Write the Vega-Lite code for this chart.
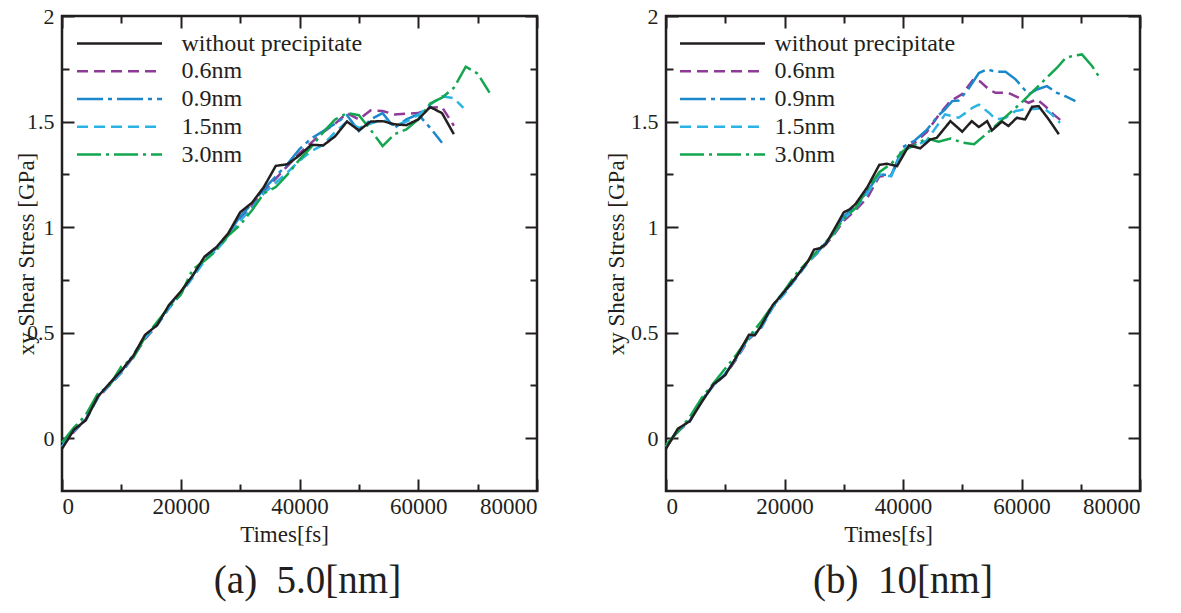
{
"$schema": "https://vega.github.io/schema/vega-lite/v6.json",
"background": "white",
"padding": {"left": 13, "top": 3, "right": 10, "bottom": 5},
"spacing": 63,
"datasets": {
"one": [{"t": 0, "v": 0}],
"d": [
{"p":"a","s":"0.6nm","t":0,"v":-0.04},{"p":"a","s":"0.6nm","t":2000,"v":0.03},{"p":"a","s":"0.6nm","t":4000,"v":0.09},{"p":"a","s":"0.6nm","t":6000,"v":0.19},{"p":"a","s":"0.6nm","t":8000,"v":0.25},{"p":"a","s":"0.6nm","t":10000,"v":0.31},{"p":"a","s":"0.6nm","t":12000,"v":0.385},{"p":"a","s":"0.6nm","t":14000,"v":0.47},{"p":"a","s":"0.6nm","t":16000,"v":0.535},{"p":"a","s":"0.6nm","t":18000,"v":0.615},{"p":"a","s":"0.6nm","t":20000,"v":0.685},{"p":"a","s":"0.6nm","t":22000,"v":0.765},{"p":"a","s":"0.6nm","t":24000,"v":0.845},{"p":"a","s":"0.6nm","t":26000,"v":0.9},{"p":"a","s":"0.6nm","t":28000,"v":0.965},{"p":"a","s":"0.6nm","t":30000,"v":1.04},{"p":"a","s":"0.6nm","t":32000,"v":1.1},{"p":"a","s":"0.6nm","t":34000,"v":1.17},{"p":"a","s":"0.6nm","t":36000,"v":1.23},{"p":"a","s":"0.6nm","t":38000,"v":1.29},{"p":"a","s":"0.6nm","t":40000,"v":1.35},{"p":"a","s":"0.6nm","t":42000,"v":1.4},{"p":"a","s":"0.6nm","t":44000,"v":1.45},{"p":"a","s":"0.6nm","t":46000,"v":1.49},{"p":"a","s":"0.6nm","t":48000,"v":1.54},{"p":"a","s":"0.6nm","t":50000,"v":1.51},{"p":"a","s":"0.6nm","t":52000,"v":1.553},{"p":"a","s":"0.6nm","t":54000,"v":1.55},{"p":"a","s":"0.6nm","t":56000,"v":1.534},{"p":"a","s":"0.6nm","t":58000,"v":1.537},{"p":"a","s":"0.6nm","t":60000,"v":1.54},{"p":"a","s":"0.6nm","t":62000,"v":1.565},{"p":"a","s":"0.6nm","t":64000,"v":1.569},{"p":"a","s":"0.6nm","t":66000,"v":1.48},
{"p":"a","s":"0.9nm","t":0,"v":-0.04},{"p":"a","s":"0.9nm","t":2000,"v":0.04},{"p":"a","s":"0.9nm","t":4000,"v":0.09},{"p":"a","s":"0.9nm","t":6000,"v":0.2},{"p":"a","s":"0.9nm","t":8000,"v":0.255},{"p":"a","s":"0.9nm","t":10000,"v":0.315},{"p":"a","s":"0.9nm","t":12000,"v":0.395},{"p":"a","s":"0.9nm","t":14000,"v":0.48},{"p":"a","s":"0.9nm","t":16000,"v":0.54},{"p":"a","s":"0.9nm","t":18000,"v":0.625},{"p":"a","s":"0.9nm","t":20000,"v":0.69},{"p":"a","s":"0.9nm","t":22000,"v":0.77},{"p":"a","s":"0.9nm","t":24000,"v":0.85},{"p":"a","s":"0.9nm","t":26000,"v":0.9},{"p":"a","s":"0.9nm","t":28000,"v":0.97},{"p":"a","s":"0.9nm","t":30000,"v":1.05},{"p":"a","s":"0.9nm","t":32000,"v":1.11},{"p":"a","s":"0.9nm","t":34000,"v":1.18},{"p":"a","s":"0.9nm","t":36000,"v":1.24},{"p":"a","s":"0.9nm","t":38000,"v":1.3},{"p":"a","s":"0.9nm","t":40000,"v":1.37},{"p":"a","s":"0.9nm","t":42000,"v":1.42},{"p":"a","s":"0.9nm","t":44000,"v":1.455},{"p":"a","s":"0.9nm","t":46000,"v":1.49},{"p":"a","s":"0.9nm","t":48000,"v":1.53},{"p":"a","s":"0.9nm","t":50000,"v":1.455},{"p":"a","s":"0.9nm","t":52000,"v":1.51},{"p":"a","s":"0.9nm","t":54000,"v":1.54},{"p":"a","s":"0.9nm","t":56000,"v":1.47},{"p":"a","s":"0.9nm","t":58000,"v":1.51},{"p":"a","s":"0.9nm","t":60000,"v":1.534},{"p":"a","s":"0.9nm","t":62000,"v":1.47},{"p":"a","s":"0.9nm","t":64000,"v":1.4},
{"p":"a","s":"1.5nm","t":0,"v":-0.04},{"p":"a","s":"1.5nm","t":2000,"v":0.035},{"p":"a","s":"1.5nm","t":4000,"v":0.085},{"p":"a","s":"1.5nm","t":6000,"v":0.19},{"p":"a","s":"1.5nm","t":8000,"v":0.255},{"p":"a","s":"1.5nm","t":10000,"v":0.31},{"p":"a","s":"1.5nm","t":12000,"v":0.39},{"p":"a","s":"1.5nm","t":14000,"v":0.475},{"p":"a","s":"1.5nm","t":16000,"v":0.535},{"p":"a","s":"1.5nm","t":18000,"v":0.615},{"p":"a","s":"1.5nm","t":20000,"v":0.685},{"p":"a","s":"1.5nm","t":22000,"v":0.76},{"p":"a","s":"1.5nm","t":24000,"v":0.84},{"p":"a","s":"1.5nm","t":26000,"v":0.89},{"p":"a","s":"1.5nm","t":28000,"v":0.955},{"p":"a","s":"1.5nm","t":30000,"v":1.03},{"p":"a","s":"1.5nm","t":32000,"v":1.09},{"p":"a","s":"1.5nm","t":34000,"v":1.16},{"p":"a","s":"1.5nm","t":36000,"v":1.21},{"p":"a","s":"1.5nm","t":38000,"v":1.26},{"p":"a","s":"1.5nm","t":40000,"v":1.315},{"p":"a","s":"1.5nm","t":42000,"v":1.36},{"p":"a","s":"1.5nm","t":44000,"v":1.39},{"p":"a","s":"1.5nm","t":46000,"v":1.45},{"p":"a","s":"1.5nm","t":48000,"v":1.5},{"p":"a","s":"1.5nm","t":50000,"v":1.47},{"p":"a","s":"1.5nm","t":52000,"v":1.49},{"p":"a","s":"1.5nm","t":54000,"v":1.51},{"p":"a","s":"1.5nm","t":56000,"v":1.48},{"p":"a","s":"1.5nm","t":58000,"v":1.5},{"p":"a","s":"1.5nm","t":60000,"v":1.53},{"p":"a","s":"1.5nm","t":62000,"v":1.58},{"p":"a","s":"1.5nm","t":64000,"v":1.62},{"p":"a","s":"1.5nm","t":66000,"v":1.61},{"p":"a","s":"1.5nm","t":67600,"v":1.565},
{"p":"a","s":"3.0nm","t":0,"v":-0.02},{"p":"a","s":"3.0nm","t":2000,"v":0.05},{"p":"a","s":"3.0nm","t":4000,"v":0.11},{"p":"a","s":"3.0nm","t":6000,"v":0.21},{"p":"a","s":"3.0nm","t":8000,"v":0.25},{"p":"a","s":"3.0nm","t":10000,"v":0.34},{"p":"a","s":"3.0nm","t":12000,"v":0.38},{"p":"a","s":"3.0nm","t":14000,"v":0.48},{"p":"a","s":"3.0nm","t":16000,"v":0.55},{"p":"a","s":"3.0nm","t":18000,"v":0.62},{"p":"a","s":"3.0nm","t":20000,"v":0.68},{"p":"a","s":"3.0nm","t":22000,"v":0.8},{"p":"a","s":"3.0nm","t":24000,"v":0.84},{"p":"a","s":"3.0nm","t":26000,"v":0.89},{"p":"a","s":"3.0nm","t":28000,"v":0.96},{"p":"a","s":"3.0nm","t":30000,"v":1.01},{"p":"a","s":"3.0nm","t":32000,"v":1.08},{"p":"a","s":"3.0nm","t":34000,"v":1.16},{"p":"a","s":"3.0nm","t":36000,"v":1.19},{"p":"a","s":"3.0nm","t":38000,"v":1.25},{"p":"a","s":"3.0nm","t":40000,"v":1.32},{"p":"a","s":"3.0nm","t":42000,"v":1.38},{"p":"a","s":"3.0nm","t":44000,"v":1.45},{"p":"a","s":"3.0nm","t":46000,"v":1.51},{"p":"a","s":"3.0nm","t":48000,"v":1.54},{"p":"a","s":"3.0nm","t":50000,"v":1.53},{"p":"a","s":"3.0nm","t":52000,"v":1.46},{"p":"a","s":"3.0nm","t":54000,"v":1.384},{"p":"a","s":"3.0nm","t":56000,"v":1.44},{"p":"a","s":"3.0nm","t":58000,"v":1.463},{"p":"a","s":"3.0nm","t":60000,"v":1.51},{"p":"a","s":"3.0nm","t":62000,"v":1.585},{"p":"a","s":"3.0nm","t":64000,"v":1.613},{"p":"a","s":"3.0nm","t":66000,"v":1.66},{"p":"a","s":"3.0nm","t":68000,"v":1.76},{"p":"a","s":"3.0nm","t":70000,"v":1.727},{"p":"a","s":"3.0nm","t":72000,"v":1.637},
{"p":"a","s":"without precipitate","t":0,"v":-0.05},{"p":"a","s":"without precipitate","t":2000,"v":0.04},{"p":"a","s":"without precipitate","t":4000,"v":0.085},{"p":"a","s":"without precipitate","t":6000,"v":0.195},{"p":"a","s":"without precipitate","t":8000,"v":0.26},{"p":"a","s":"without precipitate","t":10000,"v":0.32},{"p":"a","s":"without precipitate","t":12000,"v":0.39},{"p":"a","s":"without precipitate","t":14000,"v":0.49},{"p":"a","s":"without precipitate","t":16000,"v":0.535},{"p":"a","s":"without precipitate","t":18000,"v":0.63},{"p":"a","s":"without precipitate","t":20000,"v":0.695},{"p":"a","s":"without precipitate","t":22000,"v":0.77},{"p":"a","s":"without precipitate","t":24000,"v":0.86},{"p":"a","s":"without precipitate","t":26000,"v":0.905},{"p":"a","s":"without precipitate","t":28000,"v":0.97},{"p":"a","s":"without precipitate","t":30000,"v":1.07},{"p":"a","s":"without precipitate","t":32000,"v":1.115},{"p":"a","s":"without precipitate","t":34000,"v":1.19},{"p":"a","s":"without precipitate","t":36000,"v":1.29},{"p":"a","s":"without precipitate","t":38000,"v":1.298},{"p":"a","s":"without precipitate","t":40000,"v":1.34},{"p":"a","s":"without precipitate","t":42000,"v":1.39},{"p":"a","s":"without precipitate","t":44000,"v":1.387},{"p":"a","s":"without precipitate","t":46000,"v":1.43},{"p":"a","s":"without precipitate","t":48000,"v":1.5},{"p":"a","s":"without precipitate","t":50000,"v":1.458},{"p":"a","s":"without precipitate","t":52000,"v":1.5},{"p":"a","s":"without precipitate","t":54000,"v":1.502},{"p":"a","s":"without precipitate","t":56000,"v":1.487},{"p":"a","s":"without precipitate","t":58000,"v":1.483},{"p":"a","s":"without precipitate","t":60000,"v":1.51},{"p":"a","s":"without precipitate","t":62000,"v":1.569},{"p":"a","s":"without precipitate","t":64000,"v":1.54},{"p":"a","s":"without precipitate","t":66000,"v":1.44},
{"p":"b","s":"0.6nm","t":0,"v":-0.04},{"p":"b","s":"0.6nm","t":2000,"v":0.03},{"p":"b","s":"0.6nm","t":4000,"v":0.08},{"p":"b","s":"0.6nm","t":6000,"v":0.18},{"p":"b","s":"0.6nm","t":8000,"v":0.25},{"p":"b","s":"0.6nm","t":10000,"v":0.3},{"p":"b","s":"0.6nm","t":12000,"v":0.38},{"p":"b","s":"0.6nm","t":14000,"v":0.47},{"p":"b","s":"0.6nm","t":16000,"v":0.52},{"p":"b","s":"0.6nm","t":18000,"v":0.62},{"p":"b","s":"0.6nm","t":20000,"v":0.69},{"p":"b","s":"0.6nm","t":22000,"v":0.76},{"p":"b","s":"0.6nm","t":24000,"v":0.835},{"p":"b","s":"0.6nm","t":26000,"v":0.89},{"p":"b","s":"0.6nm","t":28000,"v":0.95},{"p":"b","s":"0.6nm","t":30000,"v":1.03},{"p":"b","s":"0.6nm","t":32000,"v":1.08},{"p":"b","s":"0.6nm","t":34000,"v":1.14},{"p":"b","s":"0.6nm","t":36000,"v":1.24},{"p":"b","s":"0.6nm","t":38000,"v":1.245},{"p":"b","s":"0.6nm","t":40000,"v":1.36},{"p":"b","s":"0.6nm","t":42000,"v":1.4},{"p":"b","s":"0.6nm","t":44000,"v":1.45},{"p":"b","s":"0.6nm","t":46000,"v":1.53},{"p":"b","s":"0.6nm","t":48000,"v":1.597},{"p":"b","s":"0.6nm","t":50000,"v":1.63},{"p":"b","s":"0.6nm","t":51900,"v":1.7},{"p":"b","s":"0.6nm","t":53000,"v":1.69},{"p":"b","s":"0.6nm","t":54500,"v":1.652},{"p":"b","s":"0.6nm","t":55600,"v":1.636},{"p":"b","s":"0.6nm","t":57800,"v":1.636},{"p":"b","s":"0.6nm","t":59500,"v":1.613},{"p":"b","s":"0.6nm","t":61200,"v":1.589},{"p":"b","s":"0.6nm","t":62600,"v":1.605},{"p":"b","s":"0.6nm","t":64000,"v":1.573},{"p":"b","s":"0.6nm","t":65400,"v":1.534},{"p":"b","s":"0.6nm","t":66800,"v":1.502},
{"p":"b","s":"0.9nm","t":0,"v":-0.04},{"p":"b","s":"0.9nm","t":2000,"v":0.04},{"p":"b","s":"0.9nm","t":4000,"v":0.085},{"p":"b","s":"0.9nm","t":6000,"v":0.18},{"p":"b","s":"0.9nm","t":8000,"v":0.25},{"p":"b","s":"0.9nm","t":10000,"v":0.305},{"p":"b","s":"0.9nm","t":12000,"v":0.385},{"p":"b","s":"0.9nm","t":14000,"v":0.48},{"p":"b","s":"0.9nm","t":16000,"v":0.525},{"p":"b","s":"0.9nm","t":18000,"v":0.625},{"p":"b","s":"0.9nm","t":20000,"v":0.69},{"p":"b","s":"0.9nm","t":22000,"v":0.765},{"p":"b","s":"0.9nm","t":24000,"v":0.84},{"p":"b","s":"0.9nm","t":26000,"v":0.895},{"p":"b","s":"0.9nm","t":28000,"v":0.96},{"p":"b","s":"0.9nm","t":30000,"v":1.05},{"p":"b","s":"0.9nm","t":32000,"v":1.1},{"p":"b","s":"0.9nm","t":34000,"v":1.17},{"p":"b","s":"0.9nm","t":36000,"v":1.25},{"p":"b","s":"0.9nm","t":38000,"v":1.245},{"p":"b","s":"0.9nm","t":40000,"v":1.38},{"p":"b","s":"0.9nm","t":42000,"v":1.41},{"p":"b","s":"0.9nm","t":44000,"v":1.46},{"p":"b","s":"0.9nm","t":46000,"v":1.53},{"p":"b","s":"0.9nm","t":47100,"v":1.558},{"p":"b","s":"0.9nm","t":48300,"v":1.597},{"p":"b","s":"0.9nm","t":49400,"v":1.6},{"p":"b","s":"0.9nm","t":51000,"v":1.652},{"p":"b","s":"0.9nm","t":52800,"v":1.73},{"p":"b","s":"0.9nm","t":54200,"v":1.747},{"p":"b","s":"0.9nm","t":55600,"v":1.736},{"p":"b","s":"0.9nm","t":57300,"v":1.736},{"p":"b","s":"0.9nm","t":59000,"v":1.7},{"p":"b","s":"0.9nm","t":61200,"v":1.629},{"p":"b","s":"0.9nm","t":62600,"v":1.652},{"p":"b","s":"0.9nm","t":64300,"v":1.668},{"p":"b","s":"0.9nm","t":66000,"v":1.636},{"p":"b","s":"0.9nm","t":67400,"v":1.62},{"p":"b","s":"0.9nm","t":69100,"v":1.597},
{"p":"b","s":"1.5nm","t":0,"v":-0.04},{"p":"b","s":"1.5nm","t":2000,"v":0.035},{"p":"b","s":"1.5nm","t":4000,"v":0.08},{"p":"b","s":"1.5nm","t":6000,"v":0.175},{"p":"b","s":"1.5nm","t":8000,"v":0.25},{"p":"b","s":"1.5nm","t":10000,"v":0.305},{"p":"b","s":"1.5nm","t":12000,"v":0.385},{"p":"b","s":"1.5nm","t":14000,"v":0.475},{"p":"b","s":"1.5nm","t":16000,"v":0.52},{"p":"b","s":"1.5nm","t":18000,"v":0.62},{"p":"b","s":"1.5nm","t":20000,"v":0.685},{"p":"b","s":"1.5nm","t":22000,"v":0.76},{"p":"b","s":"1.5nm","t":24000,"v":0.835},{"p":"b","s":"1.5nm","t":26000,"v":0.89},{"p":"b","s":"1.5nm","t":28000,"v":0.955},{"p":"b","s":"1.5nm","t":30000,"v":1.04},{"p":"b","s":"1.5nm","t":32000,"v":1.09},{"p":"b","s":"1.5nm","t":34000,"v":1.16},{"p":"b","s":"1.5nm","t":36000,"v":1.25},{"p":"b","s":"1.5nm","t":38000,"v":1.24},{"p":"b","s":"1.5nm","t":40000,"v":1.37},{"p":"b","s":"1.5nm","t":42000,"v":1.385},{"p":"b","s":"1.5nm","t":44000,"v":1.41},{"p":"b","s":"1.5nm","t":46000,"v":1.49},{"p":"b","s":"1.5nm","t":47100,"v":1.534},{"p":"b","s":"1.5nm","t":49400,"v":1.518},{"p":"b","s":"1.5nm","t":50500,"v":1.54},{"p":"b","s":"1.5nm","t":51700,"v":1.565},{"p":"b","s":"1.5nm","t":52800,"v":1.58},{"p":"b","s":"1.5nm","t":54500,"v":1.542},{"p":"b","s":"1.5nm","t":55700,"v":1.51},{"p":"b","s":"1.5nm","t":57300,"v":1.518},{"p":"b","s":"1.5nm","t":59000,"v":1.55},{"p":"b","s":"1.5nm","t":60600,"v":1.558},{"p":"b","s":"1.5nm","t":62200,"v":1.56},{"p":"b","s":"1.5nm","t":63700,"v":1.565},{"p":"b","s":"1.5nm","t":65100,"v":1.534},{"p":"b","s":"1.5nm","t":66500,"v":1.494},
{"p":"b","s":"3.0nm","t":0,"v":-0.03},{"p":"b","s":"3.0nm","t":2000,"v":0.03},{"p":"b","s":"3.0nm","t":4000,"v":0.1},{"p":"b","s":"3.0nm","t":6000,"v":0.19},{"p":"b","s":"3.0nm","t":8000,"v":0.26},{"p":"b","s":"3.0nm","t":10000,"v":0.33},{"p":"b","s":"3.0nm","t":12000,"v":0.4},{"p":"b","s":"3.0nm","t":14000,"v":0.48},{"p":"b","s":"3.0nm","t":16000,"v":0.55},{"p":"b","s":"3.0nm","t":18000,"v":0.63},{"p":"b","s":"3.0nm","t":20000,"v":0.7},{"p":"b","s":"3.0nm","t":22000,"v":0.78},{"p":"b","s":"3.0nm","t":24000,"v":0.84},{"p":"b","s":"3.0nm","t":26000,"v":0.9},{"p":"b","s":"3.0nm","t":28000,"v":0.96},{"p":"b","s":"3.0nm","t":30000,"v":1.04},{"p":"b","s":"3.0nm","t":32000,"v":1.09},{"p":"b","s":"3.0nm","t":34000,"v":1.18},{"p":"b","s":"3.0nm","t":36000,"v":1.26},{"p":"b","s":"3.0nm","t":38000,"v":1.3},{"p":"b","s":"3.0nm","t":40000,"v":1.36},{"p":"b","s":"3.0nm","t":42000,"v":1.39},{"p":"b","s":"3.0nm","t":44000,"v":1.42},{"p":"b","s":"3.0nm","t":46000,"v":1.405},{"p":"b","s":"3.0nm","t":48000,"v":1.42},{"p":"b","s":"3.0nm","t":50000,"v":1.4},{"p":"b","s":"3.0nm","t":52000,"v":1.393},{"p":"b","s":"3.0nm","t":54000,"v":1.44},{"p":"b","s":"3.0nm","t":56000,"v":1.49},{"p":"b","s":"3.0nm","t":58000,"v":1.54},{"p":"b","s":"3.0nm","t":60000,"v":1.59},{"p":"b","s":"3.0nm","t":62000,"v":1.645},{"p":"b","s":"3.0nm","t":64000,"v":1.7},{"p":"b","s":"3.0nm","t":66000,"v":1.755},{"p":"b","s":"3.0nm","t":67400,"v":1.8},{"p":"b","s":"3.0nm","t":68500,"v":1.81},{"p":"b","s":"3.0nm","t":70200,"v":1.818},{"p":"b","s":"3.0nm","t":71900,"v":1.763},{"p":"b","s":"3.0nm","t":73000,"v":1.716},
{"p":"b","s":"without precipitate","t":0,"v":-0.05},{"p":"b","s":"without precipitate","t":2000,"v":0.045},{"p":"b","s":"without precipitate","t":4000,"v":0.08},{"p":"b","s":"without precipitate","t":6000,"v":0.17},{"p":"b","s":"without precipitate","t":8000,"v":0.255},{"p":"b","s":"without precipitate","t":10000,"v":0.3},{"p":"b","s":"without precipitate","t":12000,"v":0.39},{"p":"b","s":"without precipitate","t":14000,"v":0.49},{"p":"b","s":"without precipitate","t":15000,"v":0.488},{"p":"b","s":"without precipitate","t":16000,"v":0.53},{"p":"b","s":"without precipitate","t":18000,"v":0.63},{"p":"b","s":"without precipitate","t":20000,"v":0.695},{"p":"b","s":"without precipitate","t":22000,"v":0.765},{"p":"b","s":"without precipitate","t":24000,"v":0.84},{"p":"b","s":"without precipitate","t":25000,"v":0.894},{"p":"b","s":"without precipitate","t":26000,"v":0.9},{"p":"b","s":"without precipitate","t":27000,"v":0.92},{"p":"b","s":"without precipitate","t":28000,"v":0.97},{"p":"b","s":"without precipitate","t":30000,"v":1.07},{"p":"b","s":"without precipitate","t":31000,"v":1.084},{"p":"b","s":"without precipitate","t":32000,"v":1.11},{"p":"b","s":"without precipitate","t":34000,"v":1.19},{"p":"b","s":"without precipitate","t":36000,"v":1.295},{"p":"b","s":"without precipitate","t":37300,"v":1.3},{"p":"b","s":"without precipitate","t":39000,"v":1.289},{"p":"b","s":"without precipitate","t":41000,"v":1.387},{"p":"b","s":"without precipitate","t":42900,"v":1.373},{"p":"b","s":"without precipitate","t":44600,"v":1.415},{"p":"b","s":"without precipitate","t":45700,"v":1.423},{"p":"b","s":"without precipitate","t":48000,"v":1.502},{"p":"b","s":"without precipitate","t":50000,"v":1.452},{"p":"b","s":"without precipitate","t":51600,"v":1.502},{"p":"b","s":"without precipitate","t":52800,"v":1.474},{"p":"b","s":"without precipitate","t":54200,"v":1.502},{"p":"b","s":"without precipitate","t":55000,"v":1.458},{"p":"b","s":"without precipitate","t":56700,"v":1.5},{"p":"b","s":"without precipitate","t":57800,"v":1.479},{"p":"b","s":"without precipitate","t":59200,"v":1.518},{"p":"b","s":"without precipitate","t":60600,"v":1.51},{"p":"b","s":"without precipitate","t":61800,"v":1.57},{"p":"b","s":"without precipitate","t":62900,"v":1.573},{"p":"b","s":"without precipitate","t":64600,"v":1.51},{"p":"b","s":"without precipitate","t":66300,"v":1.44}
]
},
"config": {
"view": {"stroke": "#231f20", "strokeWidth": 2.5},
"font": "Liberation Serif, Times New Roman, serif",
"axis": {"grid": false, "domain": false, "labelFont": "Liberation Serif, Times New Roman, serif", "titleFont": "Liberation Serif, Times New Roman, serif", "labelColor": "#231f20", "titleColor": "#231f20", "tickColor": "#231f20", "titleFontWeight": "normal", "tickWidth": 2},
"legend": {"padding": 0, "labelFont": "Liberation Serif, Times New Roman, serif", "labelColor": "#231f20", "labelLimit": 400},
"title": {"font": "Liberation Serif, Times New Roman, serif", "fontSize": 39, "fontWeight": "normal", "color": "#231f20", "orient": "bottom", "anchor": "middle", "frame": "group", "offset": 16}
},
"resolve": {"legend": {"color": "independent", "strokeDash": "independent"}},
"hconcat": [
{
"width": 475, "height": 475,
"title": {"text": "(a)\u00a0 5.0[nm]", "dx": 8},
"resolve": {"axis": {"x": "independent", "y": "independent"}},
"layer": [
{"data": {"name": "d"}, "transform": [{"filter": "datum.p == 'a'"}],
 "mark": {"type": "line", "strokeWidth": 2.5},
 "encoding": {
  "x": {"field": "t", "type": "quantitative", "scale": {"domain": [0, 80000], "nice": false, "zero": false}, "axis": {"orient": "bottom", "values": [0, 20000, 40000, 60000, 80000], "format": "d", "ticks": false, "labelFontSize": 23, "labelPadding": 4, "title": "Times[fs]", "titleFontSize": 23, "titlePadding": 5, "titleX": 222}},
  "y": {"field": "v", "type": "quantitative", "scale": {"domain": [-0.25, 2], "nice": false, "zero": false}, "axis": {"orient": "left", "values": [0, 0.5, 1, 1.5, 2], "format": "~g", "ticks": false, "labelFontSize": 22, "labelPadding": 8, "title": "xy Shear Stress [GPa]", "titleFontSize": 23, "titleX": -29, "titleBaseline": "alphabetic"}},
  "color": {"field": "s", "type": "nominal", "scale": {"domain": ["without precipitate", "0.6nm", "0.9nm", "1.5nm", "3.0nm"], "range": ["#231f20", "#8e3b97", "#1b88cc", "#2bb3e6", "#13a64f"]}, "legend": {"title": null, "orient": "none", "legendX": 13.5, "legendY": 15.6, "symbolType": "stroke", "symbolSize": 7225, "symbolStrokeWidth": 2.5, "clipHeight": 24, "rowPadding": 3.75, "labelFontSize": 24, "labelOffset": 18}},
  "strokeDash": {"field": "s", "type": "nominal", "scale": {"domain": ["without precipitate", "0.6nm", "0.9nm", "1.5nm", "3.0nm"], "range": [[1, 0], [11, 6], [26, 5, 4, 5], [11, 6], [24, 5, 3, 5]]}, "legend": {"title": null, "orient": "none", "legendX": 13.5, "legendY": 15.6, "symbolType": "stroke", "symbolSize": 7225, "symbolStrokeWidth": 2.5, "clipHeight": 24, "rowPadding": 3.75, "labelFontSize": 24, "labelOffset": 18}}
 }},
{"data": {"name": "one"}, "mark": {"type": "point", "opacity": 0},
 "encoding": {
  "x": {"field": "t", "type": "quantitative", "scale": {"domain": [0, 80000], "nice": false, "zero": false}, "axis": {"orient": "bottom", "values": [0, 20000, 40000, 60000, 80000], "labels": false, "tickSize": -12, "title": null}},
  "y": {"field": "v", "type": "quantitative", "scale": {"domain": [-0.25, 2], "nice": false, "zero": false}, "axis": {"orient": "left", "values": [0, 0.5, 1, 1.5, 2], "labels": false, "tickSize": -12, "title": null}}
 }},
{"data": {"name": "one"}, "mark": {"type": "point", "opacity": 0},
 "encoding": {
  "x": {"field": "t", "type": "quantitative", "scale": {"domain": [0, 80000], "nice": false, "zero": false}, "axis": {"orient": "top", "values": [0, 20000, 40000, 60000, 80000], "labels": false, "tickSize": -12, "title": null}},
  "y": {"field": "v", "type": "quantitative", "scale": {"domain": [-0.25, 2], "nice": false, "zero": false}, "axis": {"orient": "right", "values": [0, 0.5, 1, 1.5, 2], "labels": false, "tickSize": -12, "title": null}}
 }},
{"data": {"name": "one"}, "mark": {"type": "point", "opacity": 0},
 "encoding": {
  "x": {"field": "t", "type": "quantitative", "scale": {"domain": [0, 80000], "nice": false, "zero": false}, "axis": {"orient": "bottom", "values": [10000, 30000, 50000, 70000], "labels": false, "tickSize": -7, "title": null}},
  "y": {"field": "v", "type": "quantitative", "scale": {"domain": [-0.25, 2], "nice": false, "zero": false}, "axis": {"orient": "left", "values": [0.25, 0.75, 1.25, 1.75], "labels": false, "tickSize": -7, "title": null}}
 }},
{"data": {"name": "one"}, "mark": {"type": "point", "opacity": 0},
 "encoding": {
  "x": {"field": "t", "type": "quantitative", "scale": {"domain": [0, 80000], "nice": false, "zero": false}, "axis": {"orient": "top", "values": [10000, 30000, 50000, 70000], "labels": false, "tickSize": -7, "title": null}},
  "y": {"field": "v", "type": "quantitative", "scale": {"domain": [-0.25, 2], "nice": false, "zero": false}, "axis": {"orient": "right", "values": [0.25, 0.75, 1.25, 1.75], "labels": false, "tickSize": -7, "title": null}}
 }}
]
},
{
"width": 474, "height": 475,
"title": {"text": "(b)\u00a0 10[nm]"},
"resolve": {"axis": {"x": "independent", "y": "independent"}},
"layer": [
{"data": {"name": "d"}, "transform": [{"filter": "datum.p == 'b'"}],
 "mark": {"type": "line", "strokeWidth": 2.5},
 "encoding": {
  "x": {"field": "t", "type": "quantitative", "scale": {"domain": [0, 80000], "nice": false, "zero": false}, "axis": {"orient": "bottom", "values": [0, 20000, 40000, 60000, 80000], "format": "d", "ticks": false, "labelFontSize": 23, "labelPadding": 4, "title": "Times[fs]", "titleFontSize": 23, "titlePadding": 5, "titleX": 222}},
  "y": {"field": "v", "type": "quantitative", "scale": {"domain": [-0.25, 2], "nice": false, "zero": false}, "axis": {"orient": "left", "values": [0, 0.5, 1, 1.5, 2], "format": "~g", "ticks": false, "labelFontSize": 22, "labelPadding": 8, "title": "xy Shear Stress [GPa]", "titleFontSize": 23, "titleX": -43, "titleBaseline": "alphabetic"}},
  "color": {"field": "s", "type": "nominal", "scale": {"domain": ["without precipitate", "0.6nm", "0.9nm", "1.5nm", "3.0nm"], "range": ["#231f20", "#8e3b97", "#1b88cc", "#2bb3e6", "#13a64f"]}, "legend": {"title": null, "orient": "none", "legendX": 12.5, "legendY": 15.6, "symbolType": "stroke", "symbolSize": 7225, "symbolStrokeWidth": 2.5, "clipHeight": 24, "rowPadding": 3.75, "labelFontSize": 24, "labelOffset": 8}},
  "strokeDash": {"field": "s", "type": "nominal", "scale": {"domain": ["without precipitate", "0.6nm", "0.9nm", "1.5nm", "3.0nm"], "range": [[1, 0], [11, 6], [26, 5, 4, 5], [11, 6], [24, 5, 3, 5]]}, "legend": {"title": null, "orient": "none", "legendX": 12.5, "legendY": 15.6, "symbolType": "stroke", "symbolSize": 7225, "symbolStrokeWidth": 2.5, "clipHeight": 24, "rowPadding": 3.75, "labelFontSize": 24, "labelOffset": 8}}
 }},
{"data": {"name": "one"}, "mark": {"type": "point", "opacity": 0},
 "encoding": {
  "x": {"field": "t", "type": "quantitative", "scale": {"domain": [0, 80000], "nice": false, "zero": false}, "axis": {"orient": "bottom", "values": [0, 20000, 40000, 60000, 80000], "labels": false, "tickSize": -12, "title": null}},
  "y": {"field": "v", "type": "quantitative", "scale": {"domain": [-0.25, 2], "nice": false, "zero": false}, "axis": {"orient": "left", "values": [0, 0.5, 1, 1.5, 2], "labels": false, "tickSize": -12, "title": null}}
 }},
{"data": {"name": "one"}, "mark": {"type": "point", "opacity": 0},
 "encoding": {
  "x": {"field": "t", "type": "quantitative", "scale": {"domain": [0, 80000], "nice": false, "zero": false}, "axis": {"orient": "top", "values": [0, 20000, 40000, 60000, 80000], "labels": false, "tickSize": -12, "title": null}},
  "y": {"field": "v", "type": "quantitative", "scale": {"domain": [-0.25, 2], "nice": false, "zero": false}, "axis": {"orient": "right", "values": [0, 0.5, 1, 1.5, 2], "labels": false, "tickSize": -12, "title": null}}
 }},
{"data": {"name": "one"}, "mark": {"type": "point", "opacity": 0},
 "encoding": {
  "x": {"field": "t", "type": "quantitative", "scale": {"domain": [0, 80000], "nice": false, "zero": false}, "axis": {"orient": "bottom", "values": [10000, 30000, 50000, 70000], "labels": false, "tickSize": -7, "title": null}},
  "y": {"field": "v", "type": "quantitative", "scale": {"domain": [-0.25, 2], "nice": false, "zero": false}, "axis": {"orient": "left", "values": [0.25, 0.75, 1.25, 1.75], "labels": false, "tickSize": -7, "title": null}}
 }},
{"data": {"name": "one"}, "mark": {"type": "point", "opacity": 0},
 "encoding": {
  "x": {"field": "t", "type": "quantitative", "scale": {"domain": [0, 80000], "nice": false, "zero": false}, "axis": {"orient": "top", "values": [10000, 30000, 50000, 70000], "labels": false, "tickSize": -7, "title": null}},
  "y": {"field": "v", "type": "quantitative", "scale": {"domain": [-0.25, 2], "nice": false, "zero": false}, "axis": {"orient": "right", "values": [0.25, 0.75, 1.25, 1.75], "labels": false, "tickSize": -7, "title": null}}
 }}
]
}
]
}
